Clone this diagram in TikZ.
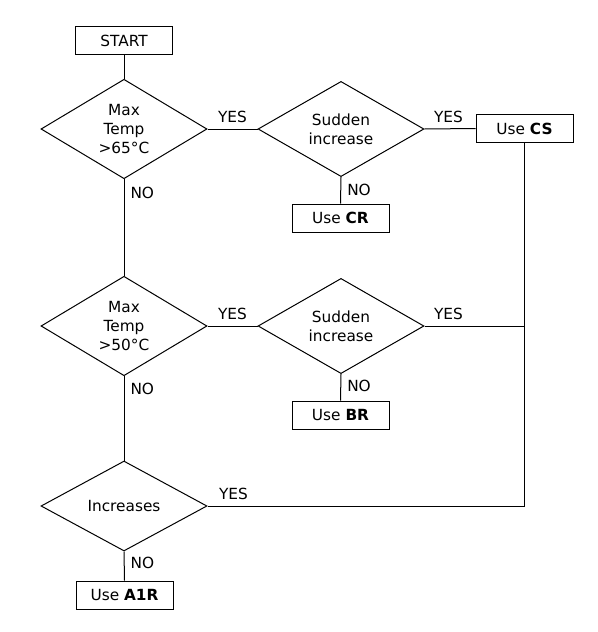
\documentclass[tikz,border=0pt]{standalone}
\usepackage{fontspec}
\setmainfont{DejaVu Sans}
\usetikzlibrary{shapes.geometric}

\tikzset{
  flowtext/.style={font=\fontsize{11.5}{14}\selectfont},
  decision/.style={draw, diamond, flowtext, align=center, inner sep=0pt, minimum width=124.5pt, minimum height=67.5pt},
  outcome/.style={draw, rectangle, flowtext, inner sep=0pt, minimum width=72.75pt, minimum height=21pt},
  yes/.style={above, flowtext, inner sep=4.5pt},
  no/.style={right, flowtext, inner sep=4.5pt},
}

\begin{document}
\begin{tikzpicture}[x=0.75pt,y=0.75pt,yscale=-1,xscale=1, line width=0.75pt]
\useasboundingbox (0,0) rectangle (598,632);

%Shape: Rectangle [id:start]
\node [outcome] (start) at (124,40.5) {START};
%Shape: Diamond [id:temp65]
\node [decision] (temp65) at (124,129) {Max\\Temp\\>65°C};
%Shape: Diamond [id:sudden65]
\node [decision] (sudden65) at (341,129) {Sudden\\increase};
%Shape: Rectangle [id:usecs]
\node [outcome] (usecs) at (524.5,128.5) {Use \textbf{CS}};
%Shape: Rectangle [id:usecr]
\node [outcome] (usecr) at (340.5,218) {Use \textbf{CR}};
%Shape: Diamond [id:temp50]
\node [decision] (temp50) at (124,326) {Max\\Temp\\>50°C};
%Shape: Diamond [id:sudden50]
\node [decision] (sudden50) at (341,326) {Sudden\\increase};
%Shape: Rectangle [id:usebr]
\node [outcome] (usebr) at (340.5,415) {Use \textbf{BR}};
%Shape: Diamond [id:increases]
\node [decision] (increases) at (124,506) {Increases};
%Shape: Rectangle [id:usea1r]
\node [outcome] (usea1r) at (124.5,595) {Use \textbf{A1R}};

%Straight Lines [id:start-temp65]
\draw (start) -- (temp65);
%Straight Lines [id:temp65-sudden65]
\draw (temp65.east) -- node [yes, pos=0.5] {YES} (sudden65.west);
%Straight Lines [id:sudden65-usecs]
\draw (sudden65.east) -- node [yes, pos=0.47] {YES} (usecs.west);
%Straight Lines [id:sudden65-usecr]
\draw (sudden65.south) -- node [no, pos=0.5] {NO} (usecr.north);
%Straight Lines [id:temp65-temp50]
\draw (temp65.south) -- node [no, pos=0.14] {NO} (temp50.north);
%Straight Lines [id:temp50-sudden50]
\draw (temp50.east) -- node [yes, pos=0.5] {YES} (sudden50.west);
%Straight Lines [id:sudden50-usecs]
\draw (sudden50.east) -- node [yes, pos=0.24] {YES} (sudden50.east -| usecs.south);
%Straight Lines [id:sudden50-usebr]
\draw (sudden50.south) -- node [no, pos=0.45] {NO} (usebr.north);
%Straight Lines [id:temp50-increases]
\draw (temp50.south) -- node [no, pos=0.155] {NO} (increases.north);
%Straight Lines [id:increases-usecs]
\draw (increases.east) -- node [yes, pos=0.082] {YES} (increases.east -| usecs.south) -- (usecs.south);
%Straight Lines [id:increases-usea1r]
\draw (increases.south) -- node [no, pos=0.4] {NO} (usea1r.north);

\end{tikzpicture}
\end{document}
